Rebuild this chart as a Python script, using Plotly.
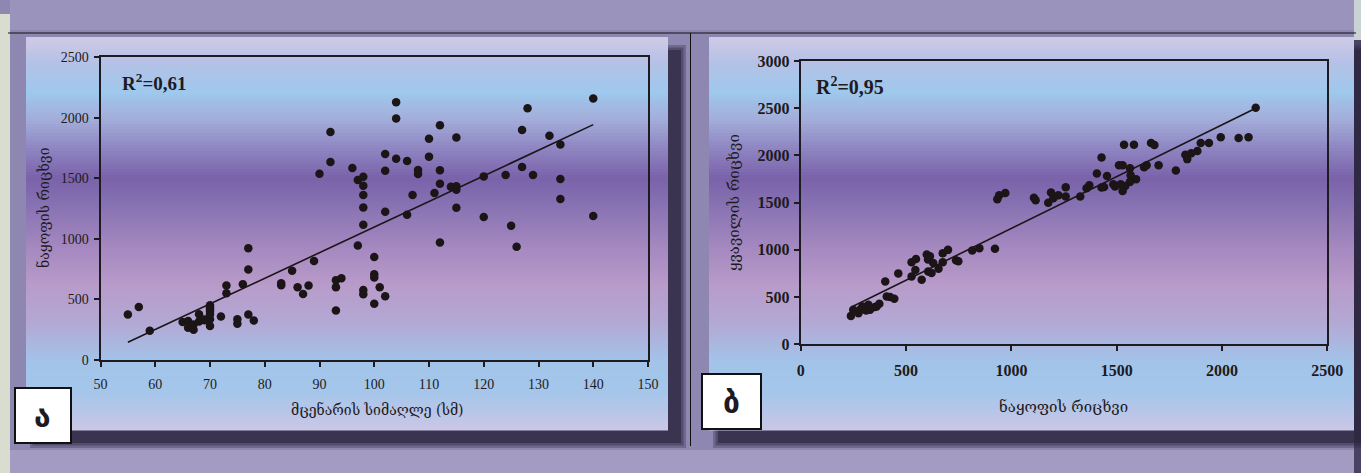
import plotly.graph_objects as go

# ---------------- DATA ----------------
# Panel ა : plant height (cm) vs number of fruits
height_cm = [55, 57, 59, 65, 66, 66, 67, 67, 68, 68, 69, 69, 70, 70, 70, 70, 70, 70, 70,
             72, 73, 73, 75, 75, 76, 77, 77, 77, 78, 83, 83, 85, 86, 87, 88, 89, 90, 92, 92,
             93, 93, 93, 94, 96, 97, 97, 98, 98, 98, 98, 98, 98, 98, 100, 100, 100, 100, 101,
             102, 102, 102, 102, 104, 104, 104, 106, 106, 107, 108, 108, 110, 110, 111, 112,
             112, 112, 112, 114, 115, 115, 115, 115, 120, 120, 124, 125, 126, 127, 127, 128,
             129, 132, 134, 134, 134, 140, 140]
fruits_a = [375, 438, 242, 314, 322, 267, 292, 250, 378, 317, 328, 335, 452, 435, 419, 400, 378, 336, 281,
            358, 614, 551, 336, 300, 626, 923, 746, 375, 325, 634, 617, 736, 601, 545, 614, 816, 1537, 1882, 1634,
            659, 601, 408, 675, 1584, 1485, 945, 1512, 1438, 1361, 1259, 1116, 578, 543, 849, 708, 680, 465, 601,
            526, 1223, 1562, 1700, 2127, 1992, 1661, 1642, 1198, 1361, 1568, 1535, 1826, 1678, 1378, 1936,
            1565, 1455, 970, 1430, 1835, 1433, 1405, 1256, 1515, 1179, 1526, 1107, 934, 1898, 1592, 2077,
            1526, 1851, 1779, 1493, 1328, 2157, 1188]
trend_a_x = [55, 140]
trend_a_y = [146, 1942]
r2_a = "0,61"

# Panel ბ : number of fruits vs number of flowers
fruits_b = [238, 249, 274, 284, 293, 310, 315, 321, 329, 352, 360, 373, 401, 408, 424, 444, 463, 526, 526,
            547, 544, 574, 598, 604, 613, 605, 621, 629, 654, 674, 674, 699, 737, 748, 814, 848, 922, 933,
            942, 971, 1107, 1115,
            1175, 1188, 1199, 1223, 1258, 1258, 1327, 1357, 1370, 1406, 1428, 1428, 1440, 1454, 1484, 1492,
            1511, 1519, 1528, 1528, 1535, 1541, 1563, 1566, 1563, 1582, 1592, 1630, 1642, 1663, 1679, 1699,
            1781, 1826, 1835, 1854, 1883, 1899, 1938, 1994, 2079, 2126, 2160]
flowers_b = [301, 365, 330, 372, 400, 357, 383, 418, 365, 394, 400, 429, 666, 506, 500, 482, 751, 868, 719,
             904, 787, 684, 950, 897, 932, 772, 755, 862, 801, 964, 868, 1000, 890, 879, 993, 1017, 1011, 1535,
             1578, 1602, 1553, 1525,
             1500, 1607, 1546, 1578, 1663, 1564, 1564, 1652, 1684, 1809, 1979, 1660, 1665, 1783, 1695, 1670,
             1897, 1695, 1897, 1624, 2113, 1677, 1865, 1791, 1720, 2113, 1748, 1876, 1897, 2131, 2110, 1897,
             1841, 2007, 1961, 2022, 2046, 2131, 2131, 2192, 2184, 2192, 2504]
trend_b_x = [241, 2160]
trend_b_y = [394, 2500]
r2_b = "0,95"

x_ticks_a = [50, 60, 70, 80, 90, 100, 110, 120, 130, 140, 150]
y_ticks_a = [0, 500, 1000, 1500, 2000, 2500]
x_ticks_b = [0, 500, 1000, 1500, 2000, 2500]
y_ticks_b = [0, 500, 1000, 1500, 2000, 2500, 3000]

title_x_a = "მცენარის სიმაღლე (სმ)"
title_y_a = "ნაყოფის რიცხვი"
title_x_b = "ნაყოფის რიცხვი"
title_y_b = "ყვავილის რიცხვი"
panel_a = "ა"
panel_b = "ბ"

# ---------------- LAYOUT HELPERS ----------------
W, H = 1361, 473


def fx(x):
    return x / W


def fy(y):
    return 1 - y / H


def hex2rgb(h):
    h = h.lstrip("#")
    return tuple(int(h[i:i + 2], 16) for i in (0, 2, 4))


def mix(c1, c2, t):
    a, b = hex2rgb(c1), hex2rgb(c2)
    return "rgb(%d,%d,%d)" % tuple(round(a[i] + (b[i] - a[i]) * t) for i in range(3))


# vertical colour stops of the card gradient (pixel y, colour)
grad_stops = [(37, "#d0cbe6"), (62, "#b5c1e6"), (92, "#9ec8ec"), (118, "#a3afdb"),
              (148, "#8f86c2"), (178, "#7a62aa"), (205, "#8772b2"), (245, "#a387bf"),
              (285, "#b89bc9"), (322, "#b3a8d4"), (362, "#a3c4e9"), (390, "#a3c6ea"),
              (430, "#cac6e6")]


def grad_color(y):
    for (y0, c0), (y1, c1) in zip(grad_stops[:-1], grad_stops[1:]):
        if y0 <= y <= y1:
            return mix(c0, c1, (y - y0) / (y1 - y0))
    return grad_stops[-1][1]


shapes = []


def rect(x0, y0, x1, y1, fill, line_color=None, line_width=0, opacity=1.0, layer="below"):
    shapes.append(dict(type="rect", xref="paper", yref="paper",
                       x0=fx(x0), x1=fx(x1), y0=fy(y1), y1=fy(y0),
                       fillcolor=fill, opacity=opacity, layer=layer,
                       line=dict(color=line_color or "rgba(0,0,0,0)", width=line_width)))


# textured outer background (approximation)
rect(0, 14, 10, 473, "#d9ddd0")
rect(1354, 0, 1361, 40, "#c9d3d6")
rect(1354, 40, 1361, 473, "#4a4262")
rect(10, 0, 1354, 473, "#8e87b1")
rect(10, 0, 1354, 30, "#9d97c0", opacity=0.8)
rect(10, 450, 1354, 473, "#a59dc4", opacity=0.9)

cards = [(26, 37, 668, 430), (709, 37, 1354, 430)]
# drop shadows
for (x0, y0, x1, y1) in cards:
    for k, op in [(16, 0.3), (11, 0.4), (6, 0.6)]:
        rect(x0 + 12 - k / 2, y0 + 16 - k / 2, x1 + 10 + k / 2, y1 + 10 + k / 2, "#2a243e", opacity=op)

# gradient cards
step = 3
for (x0, y0, x1, y1) in cards:
    y = y0
    while y < y1:
        ye = min(y + step, y1)
        rect(x0, y, x1, ye + 0.6, grad_color((y + ye) / 2))
        y = ye

# divider lines
shapes.append(dict(type="line", xref="paper", yref="paper", x0=fx(8), x1=fx(1356), y0=fy(33), y1=fy(33),
                   line=dict(color="#111111", width=1), layer="above"))
shapes.append(dict(type="line", xref="paper", yref="paper", x0=fx(690.5), x1=fx(690.5), y0=fy(33), y1=fy(446),
                   line=dict(color="#111111", width=1), layer="above"))

# panel letter boxes
rect(15, 388, 71, 443, "white", "#111111", 2, layer="above")
rect(702, 374, 761, 429, "white", "#111111", 2, layer="above")

# ---------------- FIGURE ----------------
fig = go.Figure()
dot = dict(color="#1b1518", size=8.5)
fig.add_trace(go.Scatter(x=height_cm, y=fruits_a, mode="markers", marker=dot, xaxis="x", yaxis="y",
                         showlegend=False, hoverinfo="x+y"))
fig.add_trace(go.Scatter(x=trend_a_x, y=trend_a_y, mode="lines", line=dict(color="#1b1518", width=1.6),
                         xaxis="x", yaxis="y", showlegend=False, hoverinfo="skip"))
fig.add_trace(go.Scatter(x=fruits_b, y=flowers_b, mode="markers", marker=dot, xaxis="x2", yaxis="y2",
                         showlegend=False, hoverinfo="x+y"))
fig.add_trace(go.Scatter(x=trend_b_x, y=trend_b_y, mode="lines", line=dict(color="#1b1518", width=1.6),
                         xaxis="x2", yaxis="y2", showlegend=False, hoverinfo="skip"))

serif = "Liberation Serif, Times New Roman, serif"
geo = "DejaVu Serif, DejaVu Sans, serif"
tick_a = dict(family=serif, size=14, color="#1e1a22")
tick_b = dict(family=serif, size=16, color="#1e1a22", weight="bold")


def axis(domain, rng, ticks, font, anchor, standoff):
    return dict(domain=domain, range=rng, tickvals=ticks, ticktext=[str(t) for t in ticks],
                showgrid=False, zeroline=False, showline=True, linecolor="#1e1a22", linewidth=2,
                mirror=True, ticks="outside", ticklen=5, tickcolor="#1e1a22", tickwidth=1.5,
                tickfont=font, anchor=anchor, ticklabelstandoff=standoff, fixedrange=True,
                automargin=False)


fig.update_layout(
    width=W, height=H, margin=dict(l=0, r=0, t=0, b=0, pad=0, autoexpand=False),
    paper_bgcolor="#8e87b1", plot_bgcolor="rgba(0,0,0,0)",
    xaxis=axis([fx(100.5), fx(648)], [50, 150], x_ticks_a, tick_a, "y", 5),
    yaxis=axis([fy(360), fy(57)], [0, 2500], y_ticks_a, tick_a, "x", 2),
    xaxis2=axis([fx(800.8), fx(1327.3)], [0, 2500], x_ticks_b, tick_b, "y2", 5),
    yaxis2=axis([fy(344.3), fy(61)], [0, 3000], y_ticks_b, tick_b, "x2", 1),
    shapes=shapes,
)

ann = []


def text(x, y, s, size, family, bold=False, angle=0, xanchor="center"):
    ann.append(dict(xref="paper", yref="paper", x=fx(x), y=fy(y), text=s, showarrow=False,
                    xanchor=xanchor, yanchor="middle", textangle=angle,
                    font=dict(family=family, size=size, color="#1e1a22", weight="bold" if bold else "normal")))


text(120, 82, "R<sup>2</sup>=" + r2_a, 19, serif, bold=True, xanchor="left")
text(814, 86, "R<sup>2</sup>=" + r2_b, 20, serif, bold=True, xanchor="left")
text(378, 409, title_x_a, 14, geo)
text(43, 207, title_y_a, 14, geo, angle=-90)
text(1063, 407, title_x_b, 15, geo)
text(734, 203, title_y_b, 15, geo, angle=-90)
text(43, 416, panel_a, 30, "DejaVu Sans", bold=True)
text(731.5, 402, panel_b, 30, "DejaVu Sans", bold=True)
fig.update_layout(annotations=ann)

fig.write_html("out.html", config={"displayModeBar": False, "responsive": False},
               post_script="document.body.style.margin='0';document.body.style.overflow='hidden';")
